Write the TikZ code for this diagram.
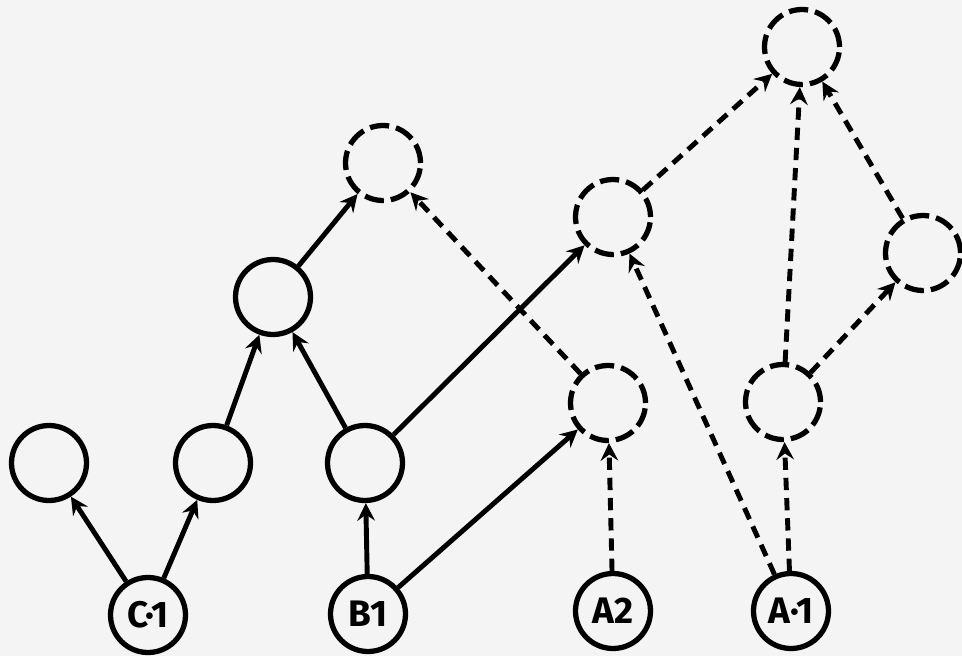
\documentclass[tikz,border=0pt]{standalone}
\usepackage{fontspec}
\setsansfont{Fira Sans}
\usepackage{xcolor}
\usepackage{tikz}
\usetikzlibrary{arrows.meta}

\begin{document}
\begin{tikzpicture}[
    vertex/.style = {circle, draw, line width = 3pt, minimum size = 1.5cm, inner sep = 0pt,
      font = \sffamily\bfseries\fontsize{21}{24}\selectfont},
    open/.style = {vertex, dash pattern = on 11pt off 4pt},
    sure/.style = {line width = 2.8pt, -{Stealth[length = 10pt, width = 10pt, inset = 3.5pt]}},
    maybe/.style = {sure, dash pattern = on 7pt off 4.5pt}]
    \fill[gray!9] (0, 0) rectangle (19.24, 13.12);
    \useasboundingbox (0, 0) rectangle (19.24, 13.12);
    % bottom row
    \node[vertex] (C1) at (2.96, 0.82) {C·1};
    \node[vertex] (B1) at (7.36, 0.84) {B1};
    \node[vertex] (A2) at (12.26, 0.90) {A2};
    \node[vertex] (A1) at (15.82, 0.90) {A·1};
    % solid circles
    \node[vertex] (N1) at (0.98, 3.86) {};
    \node[vertex] (N2) at (4.26, 3.86) {};
    \node[vertex] (N3) at (7.30, 3.86) {};
    \node[vertex] (N4) at (5.46, 7.18) {};
    % dashed circles
    \node[open] (N5) at (7.66, 9.86) {};
    \node[open] (N6) at (12.26, 8.78) {};
    \node[open] (N7) at (12.16, 5.06) {};
    \node[open] (N8) at (16.04, 12.18) {};
    \node[open] (N9) at (18.46, 8.06) {};
    \node[open] (N10) at (15.66, 5.08) {};
    \foreach \a/\b in {C1/N1, C1/N2, N2/N4, N3/N4, N4/N5, B1/N3, B1/N7, N3/N6}
      {\draw[sure] (\a) -- (\b);}
    \foreach \a/\b in {N7/N5, A2/N7, A1/N6, N6/N8, A1/N10, N10/N8, N10/N9, N9/N8}
      {\draw[maybe] (\a) -- (\b);}
  \end{tikzpicture}
\end{document}
